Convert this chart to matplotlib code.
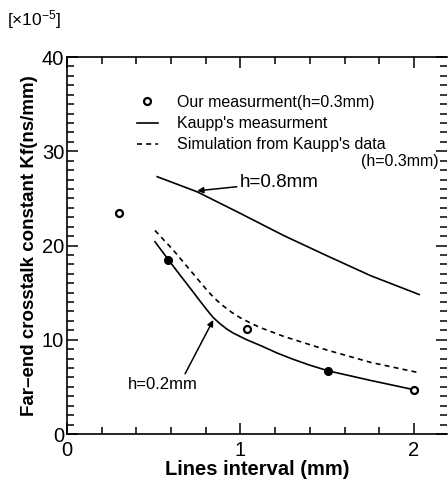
### Far-end crosstalk constant vs lines interval
import numpy as np
import matplotlib
matplotlib.use('Agg')
import matplotlib.pyplot as plt
from matplotlib.ticker import MultipleLocator

plt.rcParams['font.family'] = ['Liberation Sans', 'DejaVu Sans']
plt.rcParams['mathtext.default'] = 'regular'

## Our measurement (h=0.3mm)
meas_x = [0.30, 0.584, 1.04, 1.506, 2.0]
meas_y = [23.4, 18.5, 11.1, 6.7, 4.7]
meas_filled = [False, True, False, True, False]

## Kaupp's measurement h=0.8mm
k08_x = [0.52, 0.75, 1.0, 1.25, 1.5, 1.75, 2.03]
k08_y = [27.3, 25.7, 23.4, 21.05, 18.9, 16.8, 14.8]

## Kaupp's measurement h=0.2mm
k02_x = [0.507, 0.584, 0.65, 0.709, 0.767, 0.805, 0.843, 0.882, 0.92,
         0.959, 1.036, 1.12, 1.21, 1.30, 1.40, 1.506, 1.746, 2.0]
k02_y = [20.4, 18.5, 16.9, 15.5, 14.1, 13.2, 12.35, 11.7, 11.15,
         10.7, 10.0, 9.35, 8.6, 7.95, 7.3, 6.7, 5.7, 4.7]

## Simulation from Kaupp's data (h=0.3mm)
sim_x = [0.507, 0.613, 0.709, 0.805, 0.85, 0.90, 0.95, 0.997, 1.06, 1.12,
         1.25, 1.5, 1.75, 2.03]
sim_y = [21.6, 19.5, 17.4, 15.3, 14.4, 13.6, 12.9, 12.35, 11.75, 11.25,
         10.35, 8.9, 7.6, 6.5]

## Figure and axes
fig = plt.figure(figsize=(4.48, 4.84), dpi=100)
ax = fig.add_axes([0.1496, 0.1033, 0.848, 0.7789])

## Curves
ax.plot(k08_x, k08_y, color='black', lw=1.2)
ax.plot(k02_x, k02_y, color='black', lw=1.2, label="Kaupp's measurment")
ax.plot(sim_x, sim_y, color='black', lw=1.2, ls=(0, (3, 2.5)),
        label="Simulation from Kaupp's data")

## Measurement points
mx = np.array(meas_x)
my = np.array(meas_y)
mf = np.array(meas_filled)
ax.plot(mx[~mf], my[~mf], 'o', ms=5, mfc='white', mec='black', mew=1.6,
        label='Our measurment(h=0.3mm)', zorder=5)
ax.plot(mx[mf], my[mf], 'o', ms=5.5, mfc='black', mec='black', zorder=5)

## Annotations
ax.annotate('h=0.8mm', xy=(0.75, 25.8), xytext=(0.995, 26.7),
            fontsize=13.5, va='center', ha='left',
            arrowprops=dict(arrowstyle='-|>', color='black', lw=1.1,
                            mutation_scale=9, shrinkA=0, shrinkB=0))
ax.annotate('h=0.2mm', xy=(0.843, 12.1), xytext=(0.35, 5.3),
            fontsize=12, va='center', ha='left',
            arrowprops=dict(arrowstyle='-|>', color='black', lw=1.1,
                            mutation_scale=9, shrinkA=0, shrinkB=0,
                            relpos=(0.8, 1.0)))

## Legend
handles, labels = ax.get_legend_handles_labels()
order = [2, 0, 1]
leg = ax.legend([handles[i] for i in order], [labels[i] for i in order],
                loc='upper left', bbox_to_anchor=(0.184, 0.90), frameon=False,
                fontsize=11.5, handlelength=1.3, handletextpad=1.2,
                labelspacing=0.4, borderpad=0, borderaxespad=0)
ax.text(2.14, 28.9, '(h=0.3mm)', fontsize=11.5, ha='right', va='center')

## Scale factor
fig.text(0.016, 0.96, r'[×10$^{-5}$]', fontsize=12.5, ha='left', va='center')

## Axis limits and ticks
ax.set_xlim(0, 2.19)
ax.set_ylim(0, 40)
ax.xaxis.set_major_locator(MultipleLocator(1))
ax.xaxis.set_minor_locator(MultipleLocator(0.2))
ax.yaxis.set_major_locator(MultipleLocator(10))
ax.yaxis.set_minor_locator(MultipleLocator(1))
ax.tick_params(which='both', direction='in', top=True, right=True,
               labelsize=14.5, width=1.1)
ax.tick_params(which='major', length=8)
ax.tick_params(which='minor', length=5)
ax.tick_params(axis='x', pad=5)
ax.tick_params(axis='y', pad=2)
ax.spines['right'].set_visible(False)
for s in ['left', 'bottom', 'top']:
    ax.spines[s].set_linewidth(1.2)

## Axis labels
ax.set_xlabel('Lines interval (mm)', fontsize=14.5, fontweight='bold', labelpad=0)
ax.set_ylabel('Far\u2013end crosstalk constant Kf(ns/mm)', fontsize=13.5,
              fontweight='bold', labelpad=3)

fig.savefig('out.png', dpi=100)
